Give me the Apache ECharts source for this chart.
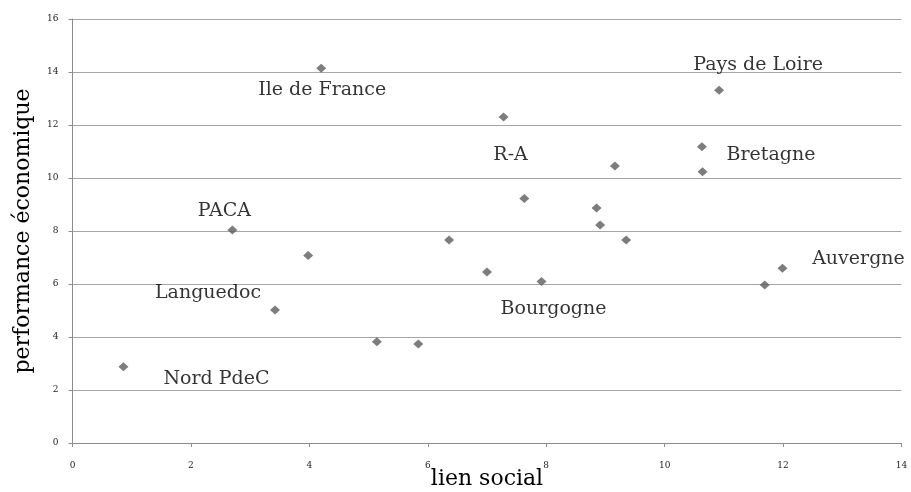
<!DOCTYPE html>
<html><head><meta charset="utf-8">
<script src="https://cdn.jsdelivr.net/npm/echarts@6/dist/echarts.min.js"></script>
<style>html,body{margin:0;padding:0;background:#fff}#c{width:911px;height:492px}</style>
</head><body><div id="c"></div>
<script>
const lienSocial = [0.86, 3.42, 2.70, 3.98, 4.20, 7.28, 9.16, 7.63, 8.85, 8.91, 6.36, 9.35, 7.00, 7.92, 5.14, 5.84, 10.92, 10.63, 10.64, 11.69, 11.99];
const performance = [2.88, 5.02, 8.04, 7.08, 14.14, 12.30, 10.45, 9.23, 8.87, 8.23, 7.66, 7.66, 6.45, 6.09, 3.82, 3.74, 13.31, 11.18, 10.24, 5.96, 6.59];
const regionNames = ['Nord PdeC', 'Languedoc', 'PACA', '', 'Ile de France', 'R-A', '', '', '', '', '', '', '', 'Bourgogne', '', '', 'Pays de Loire', 'Bretagne', '', '', 'Auvergne'];
const xTicks = [0, 2, 4, 6, 8, 10, 12, 14];
const yTicks = [0, 2, 4, 6, 8, 10, 12, 14, 16];

const labelOffsets = {
  'Nord PdeC': [93, 12], 'Languedoc': [-67, -17], 'PACA': [-8, -19],
  'Ile de France': [1, 22], 'R-A': [7, 38], 'Bourgogne': [12, 27],
  'Pays de Loire': [39, -25], 'Bretagne': [69, 8], 'Auvergne': [76, -9]
};
const SERIF = '"DejaVu Serif", "Liberation Serif", serif';

const data = lienSocial.map((x, i) => {
  const name = regionNames[i];
  const d = { value: [x, performance[i]], name: name };
  if (name) {
    d.label = { show: true, formatter: name, position: 'inside', offset: labelOffsets[name] };
  }
  return d;
});

const chart = echarts.init(document.getElementById('c'), null, { renderer: 'canvas' });
chart.setOption({
  animation: false,
  backgroundColor: '#fff',
  grid: { left: 72.5, right: 9.5, top: 19, bottom: 49, containLabel: false, outerBoundsMode: 'none' },
  xAxis: {
    type: 'value', min: xTicks[0], max: xTicks[xTicks.length - 1], interval: 2,
    name: 'lien social', nameLocation: 'middle', nameGap: 25, nameMoveOverlap: false,
    nameTextStyle: { fontFamily: SERIF, fontSize: 22, color: '#000' },
    axisLine: { show: true, lineStyle: { color: '#8c8c8c', width: 1 } },
    axisTick: { show: true, length: 4, lineStyle: { color: '#8c8c8c' } },
    axisLabel: { fontFamily: SERIF, fontSize: 9, color: '#222', margin: 18 },
    splitLine: { show: false }
  },
  yAxis: {
    type: 'value', min: yTicks[0], max: yTicks[yTicks.length - 1], interval: 2,
    name: 'performance économique', nameLocation: 'middle', nameGap: 38, nameRotate: 90, nameMoveOverlap: false,
    nameTextStyle: { fontFamily: SERIF, fontSize: 22, color: '#000' },
    axisLine: { show: true, lineStyle: { color: '#8c8c8c', width: 1 } },
    axisTick: { show: true, length: 4, lineStyle: { color: '#8c8c8c' } },
    axisLabel: { fontFamily: SERIF, fontSize: 9, color: '#222', margin: 14 },
    splitLine: { show: true, lineStyle: { color: '#a6a6a6', width: 1 } }
  },
  series: [{
    type: 'scatter',
    symbol: 'diamond',
    symbolSize: [10, 9],
    itemStyle: { color: '#5c5c5c' },
    label: { fontFamily: SERIF, fontSize: 19, color: '#000', textBorderWidth: 0 },
    data: data
  }]
});
</script>
</body></html>
